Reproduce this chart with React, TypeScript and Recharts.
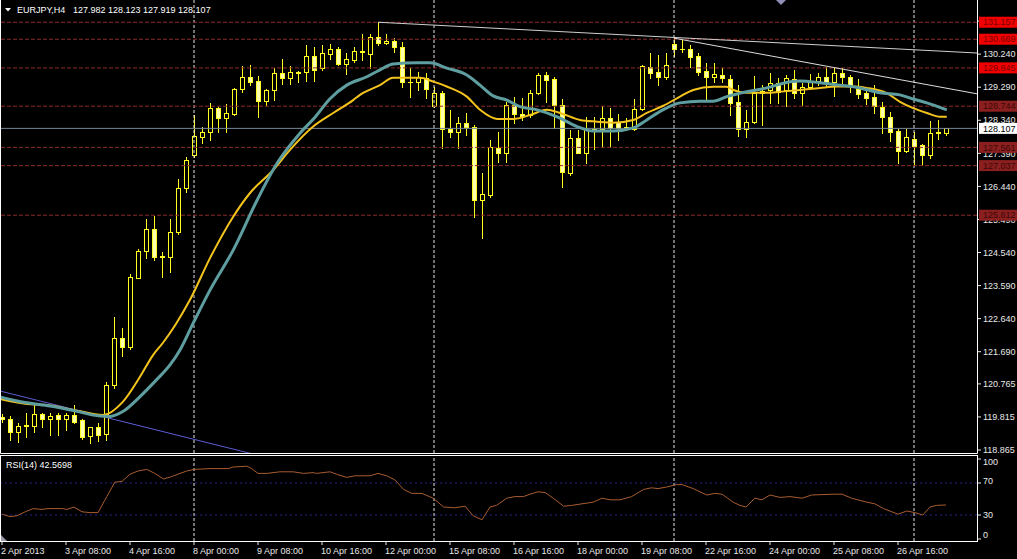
import React from 'react';
import { ComposedChart, Bar, Line, XAxis, YAxis, ReferenceLine } from 'recharts';

// EURJPY H4, bar 0 = 2 Apr 2013 00:00, one bar per 4 hours (weekends skipped)
const opens = [
  119.80, 119.76, 119.38, 119.57, 119.55, 119.90, 119.76, 119.87, 119.76, 119.87,
  119.73, 119.27, 119.53, 119.32, 120.73, 122.08, 121.83, 123.81, 124.58, 125.22,
  124.43, 124.41, 125.13, 126.39, 127.34, 127.87, 128.00, 128.69, 128.41, 128.52,
  129.24, 129.58, 129.47, 128.89, 129.21, 129.70, 129.55, 129.73, 129.73, 130.19,
  129.84, 130.24, 130.39, 129.96, 130.07, 130.31, 130.24, 130.73, 130.56, 130.62,
  130.45, 129.45, 129.44, 129.56, 128.75, 129.12, 128.09, 128.00, 128.26, 128.15,
  126.05, 126.19, 127.54, 127.40, 128.78, 128.52, 128.49, 129.12, 129.64, 129.53,
  128.78, 126.83, 127.83, 127.40, 128.06, 128.09, 128.41, 128.29, 128.14, 128.09,
  128.66, 129.87, 129.73, 129.58, 130.53, 130.39, 130.39, 130.19, 129.76, 129.58,
  129.64, 129.53, 128.87, 128.09, 128.29, 129.12, 129.21, 129.41, 129.21, 129.53,
  129.12, 129.30, 129.47, 129.58, 129.44, 129.70, 129.58, 129.24, 129.12, 129.01,
  128.72, 128.43, 128.03, 127.46, 127.80, 127.63, 127.34, 128.00, 127.982,
];
const highs = [
  119.90, 119.84, 119.64, 119.93, 120.16, 119.93, 119.93, 119.93, 119.93, 120.16,
  119.75, 119.53, 119.64, 120.82, 122.69, 122.37, 123.92, 124.64, 125.50, 125.59,
  124.56, 125.50, 126.65, 127.28, 128.49, 128.15, 128.84, 128.72, 128.81, 129.27,
  129.90, 129.93, 129.61, 129.24, 129.84, 130.10, 129.90, 129.76, 130.50, 130.45,
  130.50, 130.53, 130.45, 130.27, 130.45, 130.82, 130.82, 131.157, 130.82, 130.70,
  130.59, 129.84, 129.73, 129.70, 129.30, 129.18, 128.64, 128.43, 128.55, 128.20,
  126.83, 127.77, 128.00, 128.87, 129.01, 128.98, 129.21, 129.70, 129.73, 129.58,
  128.95, 128.06, 128.06, 128.43, 128.43, 128.75, 128.69, 128.52, 128.41, 128.95,
  129.93, 130.27, 130.22, 130.27, 130.70, 130.65, 130.50, 130.27, 129.99, 129.99,
  129.84, 129.64, 129.35, 128.64, 129.61, 129.35, 129.70, 129.56, 129.64, 129.78,
  129.41, 129.67, 129.70, 129.87, 129.84, 129.84, 129.64, 129.53, 129.21, 129.35,
  128.87, 128.58, 128.09, 128.09, 128.00, 127.66, 128.32, 128.35, 128.123,
];
const lows = [
  119.67, 119.15, 119.10, 119.24, 119.38, 119.53, 119.30, 119.30, 119.44, 119.64,
  119.18, 119.07, 119.12, 119.15, 120.65, 121.57, 121.77, 123.81, 124.38, 124.33,
  123.84, 123.98, 125.07, 126.28, 127.28, 127.69, 127.77, 128.00, 128.00, 128.50,
  129.15, 129.35, 128.43, 128.78, 128.92, 129.38, 129.38, 129.44, 129.47, 129.47,
  129.78, 130.10, 129.93, 129.67, 130.01, 130.07, 129.84, 130.50, 130.53, 130.30,
  129.30, 129.01, 129.21, 128.98, 128.72, 127.54, 127.86, 127.54, 127.92, 125.56,
  124.96, 126.14, 127.14, 127.14, 128.26, 128.35, 128.43, 129.10, 128.87, 128.12,
  126.42, 126.77, 127.40, 127.11, 127.51, 127.57, 127.57, 127.77, 128.06, 128.06,
  128.64, 129.55, 129.35, 129.53, 130.19, 130.30, 129.87, 129.64, 128.92, 129.44,
  129.44, 128.49, 127.89, 127.86, 128.26, 128.20, 128.84, 128.84, 128.75, 128.98,
  128.78, 129.24, 129.35, 129.30, 129.04, 129.35, 129.15, 128.98, 128.81, 128.55,
  127.97, 127.74, 127.11, 127.43, 127.06, 127.06, 127.26, 127.80, 127.919,
];
const closes = [
  119.76, 119.38, 119.55, 119.56, 119.90, 119.76, 119.84, 119.76, 119.87, 119.67,
  119.24, 119.53, 119.30, 120.73, 122.08, 121.83, 123.84, 124.58, 125.22, 124.41,
  124.40, 125.13, 126.39, 127.20, 127.89, 128.00, 128.69, 128.41, 128.55, 129.24,
  129.58, 129.44, 128.89, 129.21, 129.70, 129.55, 129.73, 129.71, 130.19, 129.78,
  130.27, 130.39, 129.96, 130.10, 130.33, 130.32, 130.73, 130.56, 130.62, 130.45,
  129.44, 129.43, 129.58, 129.24, 129.12, 128.09, 128.00, 128.26, 128.15, 126.05,
  126.22, 127.57, 127.40, 128.78, 128.52, 128.46, 129.12, 129.64, 129.50, 128.78,
  126.85, 127.83, 127.40, 128.06, 128.09, 128.41, 128.12, 128.12, 128.15, 128.66,
  129.90, 129.70, 129.58, 129.93, 130.39, 130.38, 130.16, 129.73, 129.58, 129.67,
  129.56, 128.84, 128.09, 128.29, 129.12, 129.18, 129.41, 129.15, 129.56, 129.12,
  129.30, 129.47, 129.58, 129.44, 129.70, 129.58, 129.35, 129.10, 128.98, 128.75,
  128.43, 128.00, 127.46, 127.86, 127.60, 127.34, 127.97, 127.97, 128.107,
];

// moving averages: [bar position, price]
const fastMA: [number, number][] = [
  [-0.25, 120.33], [3.1, 120.19], [5.6, 120.16], [9.1, 120.01], [12.6, 119.87], [15.1, 120.25],
  [17.25, 120.97], [18.9, 121.6], [20.1, 121.94], [21.8, 122.51], [23.5, 123.18], [26, 124.38],
  [28.9, 125.57], [31, 126.25], [33.9, 126.91], [36, 127.49], [38.9, 128.16], [41.4, 128.55],
  [43.9, 128.92], [44.75, 129.07], [47.25, 129.35], [48.9, 129.56], [52.25, 129.56], [53.9, 129.45],
  [55.6, 129.31], [58.1, 129.02], [59.75, 128.64], [61.9, 128.38], [63.9, 128.38], [66, 128.49],
  [68.1, 128.64], [69.75, 128.55], [72.25, 128.35], [74.4, 128.3], [76.4, 128.27], [78.9, 128.35],
  [80.6, 128.55], [82.6, 128.75], [84.75, 129.02], [86.4, 129.21], [88.9, 129.3], [90.6, 129.3],
  [91.4, 129.21], [93.1, 129.13], [95.6, 129.13], [97.25, 129.16], [99.75, 129.21], [102.25, 129.27],
  [104.4, 129.31], [106.4, 129.31], [108.1, 129.27], [110.6, 129.12], [112.25, 128.87], [113.9, 128.69],
  [115.6, 128.55], [117.25, 128.44], [118.1, 128.44],
];
const slowMA: [number, number][] = [
  [-0.25, 120.39], [3.1, 120.22], [6, 120.13], [9.1, 119.99], [12.25, 119.84], [13.5, 119.83],
  [15.1, 119.97], [17.25, 120.4], [19.3, 120.88], [21, 121.31], [22.25, 121.74], [23.9, 122.51],
  [26, 123.46], [28.9, 124.61], [31.9, 126.05], [34.4, 127.11], [37.25, 127.97], [39.1, 128.42],
  [41, 128.96], [43.1, 129.35], [45.6, 129.59], [47.25, 129.79], [48.9, 129.96], [51.9, 129.99],
  [53.5, 129.99], [55.6, 129.84], [58.1, 129.64], [59.75, 129.35], [61.4, 129.04], [63.1, 128.92],
  [64.75, 128.73], [66.9, 128.64], [69.4, 128.44], [71.9, 128.16], [73.9, 128.03], [76.4, 128.03],
  [78.9, 128.12], [80.6, 128.35], [82.6, 128.64], [84.75, 128.84], [87.25, 128.89], [88.9, 128.89],
  [90.6, 129.02], [93.1, 129.16], [95.6, 129.27], [98.5, 129.45], [99.75, 129.47], [102.25, 129.42],
  [104.75, 129.35], [107.25, 129.27], [109.75, 129.13], [112.25, 129.07], [113.9, 128.95],
  [115.6, 128.84], [118.1, 128.64],
];

// RSI(14): [bar position, value]
const rsi14: [number, number][] = [
  [0, 31], [1, 28], [1.85, 29], [2.9, 34], [3.9, 38], [5, 37], [5.75, 38], [7.6, 38], [8.1, 37],
  [9, 40], [10, 34], [11, 33], [12, 33], [13.1, 53], [14.1, 71], [15, 72], [16, 81], [17, 85],
  [18.1, 87], [19.1, 82], [20.2, 75], [21.2, 78], [22.25, 82], [23.1, 85], [24, 87], [26, 88],
  [28.3, 88], [28.9, 90], [30.6, 91], [31.2, 88], [32, 82], [33.1, 82], [34.75, 84], [36.4, 84],
  [37.7, 82], [38.9, 83], [39.3, 82], [41, 84], [41.8, 81], [43.1, 77], [44.1, 79], [46, 79],
  [47, 82], [48.1, 79], [49.1, 74], [50.2, 62], [51.2, 57], [52.5, 57], [53.9, 51], [55.2, 40],
  [56.6, 39], [57.9, 41], [58.9, 29], [60, 24], [61, 40], [61.8, 42], [63.1, 51], [64.1, 53],
  [65.2, 53], [66, 56], [67, 59], [67.9, 58], [68.9, 51], [70.2, 41], [71.2, 42], [72.5, 44],
  [73.9, 46], [75, 51], [76, 49], [77.25, 49], [78.7, 53], [80.2, 62], [81.2, 64], [82, 63],
  [83.1, 65], [84.3, 68], [85, 68], [86.4, 63], [88.1, 55], [89.1, 57], [90, 56], [91.4, 46],
  [92.25, 42], [93, 40], [94.1, 51], [95, 49], [96, 55], [97.25, 52], [98.5, 53], [100, 51],
  [101.2, 55], [103.9, 56], [105, 56], [106.2, 51], [108.1, 46], [109.1, 44], [110.2, 38],
  [112, 31], [113.1, 35], [114.1, 33], [115.1, 30], [116, 40], [116.8, 42], [118, 42.5698],
];

const priceTicks = [118.865, 119.815, 120.765, 121.69, 122.64, 123.59, 124.54, 125.49, 126.44, 127.39, 128.34, 129.29, 130.24, 131.19];
const levelPrices = [131.157, 130.669, 129.845, 128.744, 127.561, 127.037, 125.612];
const rsiLevels = [70, 30];
const rsiTicks = [0, 30, 70, 100];
const weekStarts = [24, 54, 84, 114];
const timeTickBars = [0, 8, 16, 24, 32, 40, 48, 56, 64, 72, 80, 88, 96, 104, 112];
const timeTickLabels = [
  '2 Apr 2013', '3 Apr 08:00', '4 Apr 16:00', '8 Apr 00:00', '9 Apr 08:00', '10 Apr 16:00',
  '12 Apr 00:00', '15 Apr 08:00', '16 Apr 16:00', '18 Apr 00:00', '19 Apr 08:00', '22 Apr 16:00',
  '24 Apr 00:00', '25 Apr 08:00', '26 Apr 16:00',
];
// hand-drawn trend lines: two points each [bar, price]
const trendLines: [number, number][][] = [
  [[47, 131.157], [121.875, 130.273]],
  [[84, 130.7], [121.875, 129.1]],
  [[-0.25, 120.56], [40, 118.256]],
];
const trendColors = ['#cfcfcf', '#dcdcdc', '#5d5dd6'];

const FONT = '"Liberation Sans", Arial, sans-serif';
const X_DOMAIN: [number, number] = [-0.125, 121.875];
const PRICE_DOMAIN: [number, number] = [118.779, 131.796];
const CANDLE = '#ffff20';
const BEAR_FILL = '#ffffb0';
const MAIN_MARGIN = { top: 0, right: 0, bottom: 4, left: 1 };

const candles = opens.map((open, i) => ({
  t: i,
  range: [lows[i], highs[i]],
  open,
  high: highs[i],
  low: lows[i],
  close: closes[i],
}));
const fastData = fastMA.map(([t, v]) => ({ t, v }));
const slowData = slowMA.map(([t, v]) => ({ t, v }));
const rsiData = rsi14.map(([t, v]) => ({ t, v }));
const last = candles[candles.length - 1];

function Candle(props: any) {
  const { x, y, width, height, payload } = props;
  if (!payload || height == null || isNaN(y)) return null;
  const { open, close, high, low } = payload;
  const top = Math.min(y, y + height);
  const span = Math.abs(height);
  const k = high === low ? 0 : span / (high - low);
  const px = Math.round(x + width / 2);
  const yO = top + (high - open) * k;
  const yC = top + (high - close) * k;
  const bodyTop = Math.round(Math.min(yO, yC));
  const bodyBot = Math.round(Math.max(yO, yC));
  const bull = close >= open;
  return (
    <g>
      <line x1={px + 0.5} x2={px + 0.5} y1={Math.round(top)} y2={Math.round(top + span) + 1} stroke={CANDLE} strokeWidth={1} />
      {bodyBot - bodyTop < 1 ? (
        <line x1={px - 2} x2={px + 3} y1={bodyTop + 0.5} y2={bodyTop + 0.5} stroke={CANDLE} strokeWidth={1} />
      ) : (
        <rect x={px - 1.5} y={bodyTop + 0.5} width={4} height={bodyBot - bodyTop} fill={bull ? '#000' : BEAR_FILL} stroke={CANDLE} strokeWidth={1} />
      )}
    </g>
  );
}

function PriceTag(props: any) {
  const { viewBox, text, bg, fg } = props;
  if (!viewBox) return null;
  const right = viewBox.x + viewBox.width;
  const cy = viewBox.y + (viewBox.height || 0) / 2;
  return (
    <g>
      <rect x={right + 2} y={cy - 5.5} width={38} height={11} fill={bg} />
      <text x={right + 6} y={cy} dy="0.35em" fontSize={9} fontFamily={FONT} fill={fg}>{text}</text>
    </g>
  );
}

function TimeTick(props: any) {
  const { x, y, payload } = props;
  const idx = timeTickBars.indexOf(payload.value);
  return (
    <text x={x - 1} y={y + 7} textAnchor="start" fontSize={9} fontFamily={FONT} fill="#e8e8e8">
      {timeTickLabels[idx]}
    </text>
  );
}

function RsiTick(props: any) {
  const { x, y, payload } = props;
  const shift: Record<number, number> = { 0: -4, 30: 0, 70: -2, 100: 3 };
  return (
    <text x={x} y={y + (shift[payload.value] || 0)} dy="0.35em" textAnchor="start" fontSize={9} fontFamily={FONT} fill="#e8e8e8">
      {payload.value}
    </text>
  );
}

export default function App() {
  return (
    <div style={{ position: 'relative', width: 1017, height: 559, background: '#000', overflow: 'hidden' }}>
      <style>{'html,body{margin:0;padding:0;background:#000;}'}</style>
      <div style={{ position: 'absolute', left: 0, top: 0 }}>
        <ComposedChart width={1017} height={457} data={candles} margin={MAIN_MARGIN}>
          <XAxis dataKey="t" type="number" domain={X_DOMAIN} allowDataOverflow hide />
          <YAxis
            orientation="right"
            width={40}
            domain={PRICE_DOMAIN}
            allowDataOverflow
            ticks={priceTicks}
            interval={0}
            tickSize={4}
            tickMargin={2}
            axisLine={false}
            tickLine={{ stroke: '#e8e8e8' }}
            tick={{ fill: '#e8e8e8', fontSize: 9, fontFamily: FONT }}
            tickFormatter={(v: number) => v.toFixed(3)}
          />
          {weekStarts.map((t) => (
            <ReferenceLine key={'w' + t} x={t} stroke="#e6e6e6" strokeDasharray="3 2" />
          ))}
          {levelPrices.map((p) => (
            <ReferenceLine key={'l' + p} y={p} stroke="#8e2a2a" strokeDasharray="4 2" />
          ))}
          <ReferenceLine y={last.close} stroke="#778899" />
          {trendLines.map((seg, i) => (
            <ReferenceLine
              key={'tl' + i}
              segment={[{ x: seg[0][0], y: seg[0][1] }, { x: seg[1][0], y: seg[1][1] }]}
              stroke={trendColors[i]}
              ifOverflow="hidden"
            />
          ))}
          <Bar dataKey="range" barSize={5} isAnimationActive={false} shape={(p: any) => <Candle {...p} />} />
          <Line data={fastData} dataKey="v" type="monotone" stroke="#f4c41c" strokeWidth={2} dot={false} isAnimationActive={false} />
          <Line data={slowData} dataKey="v" type="monotone" stroke="#5f9ea0" strokeWidth={3} dot={false} isAnimationActive={false} />
        </ComposedChart>
      </div>
      {/* price tags of the horizontal lines, kept above the axis labels */}
      <div style={{ position: 'absolute', left: 0, top: 0, pointerEvents: 'none' }}>
        <ComposedChart width={1017} height={457} data={candles} margin={MAIN_MARGIN}>
          <XAxis dataKey="t" type="number" domain={X_DOMAIN} allowDataOverflow hide />
          <YAxis orientation="right" width={40} domain={PRICE_DOMAIN} allowDataOverflow tick={false} tickLine={false} axisLine={false} />
          {levelPrices.map((p, i) => (
            <ReferenceLine
              key={'tag' + p}
              y={p}
              stroke="none"
              label={<PriceTag text={p.toFixed(3)} bg={i < 3 ? '#f00000' : '#8b1f1f'} fg={i < 3 ? '#7a0000' : '#3c0808'} />}
            />
          ))}
          <ReferenceLine
            y={last.close}
            stroke="none"
            label={<PriceTag text={last.close.toFixed(3)} bg="#ffffff" fg="#000000" />}
          />
        </ComposedChart>
      </div>
      <div style={{ position: 'absolute', left: 0, top: 456 }}>
        <ComposedChart width={1017} height={103} data={rsiData} margin={{ top: 0, right: 0, bottom: 0, left: 1 }}>
          <XAxis
            dataKey="t"
            type="number"
            domain={X_DOMAIN}
            allowDataOverflow
            ticks={timeTickBars}
            interval={0}
            height={18}
            tickSize={4}
            axisLine={false}
            tickLine={{ stroke: '#e8e8e8' }}
            tick={<TimeTick />}
          />
          <YAxis
            orientation="right"
            width={40}
            domain={[-2.5, 103.75]}
            allowDataOverflow
            ticks={rsiTicks}
            interval={0}
            tickSize={4}
            tickMargin={2}
            axisLine={false}
            tickLine={{ stroke: '#e8e8e8' }}
            tick={<RsiTick />}
          />
          {rsiLevels.map((lv) => (
            <ReferenceLine key={'r' + lv} y={lv} stroke="#23238f" strokeDasharray="2 3" />
          ))}
          {weekStarts.map((t) => (
            <ReferenceLine key={'rw' + t} x={t} stroke="#e6e6e6" strokeDasharray="3 2" />
          ))}
          <Line dataKey="v" type="linear" stroke="#a75c31" strokeWidth={1} dot={false} isAnimationActive={false} />
        </ComposedChart>
      </div>
      <svg width={1017} height={559} style={{ position: 'absolute', left: 0, top: 0, pointerEvents: 'none' }}>
        <path d="M0.5 0 V453.5 H977.5 V0" fill="none" stroke="#ffffff" strokeWidth={1} />
        <rect x={0.5} y={455.5} width={977} height={86} fill="none" stroke="#ffffff" strokeWidth={1} />
        <polygon points="1,535 1,541 7,541" fill="#9a9aa6" />
        <polygon points="776,0 786,0 781,5" fill="#8f8fb8" />
        <polygon points="5,8 11,8 8,11.5" fill="#ffffff" />
        <text x={17} y={10} dy="0.35em" fontSize={9} fontFamily={FONT} fill="#ffffff">EURJPY,H4</text>
        <text x={73} y={10} dy="0.35em" fontSize={9} fontFamily={FONT} fill="#ffffff">
          {`${last.open.toFixed(3)} ${last.high.toFixed(3)} ${last.low.toFixed(3)} ${last.close.toFixed(3)}`}
        </text>
        <text x={6} y={465} dy="0.35em" fontSize={9} fontFamily={FONT} fill="#ffffff">RSI(14) 42.5698</text>
      </svg>
    </div>
  );
}
